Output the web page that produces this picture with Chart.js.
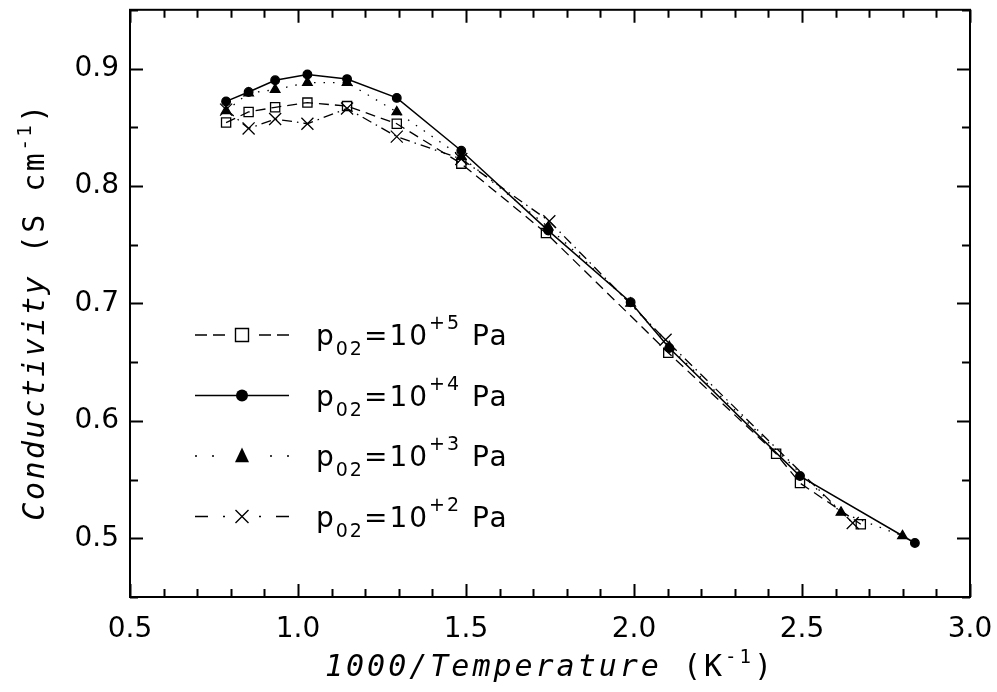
<!DOCTYPE html>
<html>
<head>
<meta charset="utf-8">
<script src="https://cdn.jsdelivr.net/npm/chart.js@4"></script>
<style>
  html, body { margin: 0; padding: 0; background: #fff; }
  canvas { display: block; }
</style>
</head>
<body>
<canvas id="chart" width="997" height="692"></canvas>
<script>
// 1000/T (K^-1) and conductivity (S/cm) per oxygen partial pressure
const invT5 = [0.786, 0.853, 0.932, 1.028, 1.146, 1.294, 1.486, 1.738, 2.102, 2.423, 2.494, 2.675];
const sigma5 = [0.854, 0.863, 0.867, 0.871, 0.868, 0.853, 0.819, 0.760, 0.658, 0.572, 0.547, 0.512];

const invT4 = [0.786, 0.853, 0.932, 1.028, 1.146, 1.294, 1.486, 1.745, 1.990, 2.105, 2.494, 2.836];
const sigma4 = [0.872, 0.880, 0.890, 0.895, 0.891, 0.875, 0.830, 0.762, 0.701, 0.662, 0.553, 0.496];

const invT3 = [0.786, 0.853, 0.932, 1.028, 1.146, 1.294, 1.486, 1.745, 1.990, 2.105, 2.616, 2.799];
const sigma3 = [0.864, 0.879, 0.882, 0.888, 0.888, 0.863, 0.825, 0.765, 0.700, 0.663, 0.522, 0.502];

const invT2 = [0.786, 0.853, 0.932, 1.028, 1.146, 1.294, 1.486, 1.748, 2.094, 2.651];
const sigma2 = [0.865, 0.849, 0.857, 0.853, 0.866, 0.842, 0.823, 0.770, 0.669, 0.513];

const exponents = ["+5", "+4", "+3", "+2"];
const xTicks = [0.5, 1.0, 1.5, 2.0, 2.5, 3.0];
const yTicks = [0.5, 0.6, 0.7, 0.8, 0.9];

const SANS = '"DejaVu Sans", sans-serif';
const MONO = '"DejaVu Sans Mono", monospace';

function toPoints(xs, ys) {
  return xs.map((x, i) => ({ x: x, y: ys[i] }));
}

function drawMarker(ctx, style, x, y, s) {
  ctx.save();
  ctx.setLineDash([]);
  ctx.lineWidth = 1.4;
  ctx.strokeStyle = "#000";
  ctx.fillStyle = "#000";
  ctx.beginPath();
  if (style === "rect") {
    ctx.rect(x - s / 2, y - s / 2, s, s);
    ctx.stroke();
  } else if (style === "circle") {
    ctx.arc(x, y, s / 2, 0, Math.PI * 2);
    ctx.fill();
  } else if (style === "triangle") {
    ctx.moveTo(x, y - s * 0.6);
    ctx.lineTo(x - s / 2, y + s * 0.45);
    ctx.lineTo(x + s / 2, y + s * 0.45);
    ctx.closePath();
    ctx.fill();
  } else {
    const h = s / 2;
    ctx.moveTo(x - h, y - h); ctx.lineTo(x + h, y + h);
    ctx.moveTo(x - h, y + h); ctx.lineTo(x + h, y - h);
    ctx.stroke();
  }
  ctx.restore();
}

// draw a run of text pieces (with sub/superscripts) starting at x on baseline y
function drawPieces(ctx, pieces, x, y, spacing) {
  ctx.letterSpacing = spacing + "px";
  pieces.forEach(p => {
    ctx.font = p.font;
    ctx.fillText(p.text, x, y + (p.dy || 0));
    x += ctx.measureText(p.text).width;
  });
  return x;
}
function piecesWidth(ctx, pieces, spacing) {
  ctx.letterSpacing = spacing + "px";
  let w = 0;
  pieces.forEach(p => { ctx.font = p.font; w += ctx.measureText(p.text).width; });
  return w;
}

const legendDash = [
  { left: [12, 6], right: [12, 6] },
  { left: [], right: [] },
  { left: [2, 15], right: [2, 15] },
  { left: [13, 15, 2, 40], right: [13, 15, 2, 40] }
];
const legendSize = [13, 12, 14, 13];

const framePlugin = {
  id: "frameAndTicks",
  afterDatasetsDraw(chart) {
    const ctx = chart.ctx;
    const a = chart.chartArea;
    const xs = chart.scales.x, ys = chart.scales.y;
    ctx.save();
    ctx.strokeStyle = "#000";
    ctx.lineWidth = 2;
    ctx.setLineDash([]);
    ctx.strokeRect(a.left, a.top, a.right - a.left, a.bottom - a.top);

    ctx.beginPath();
    // x ticks every 0.1, major every 0.5
    for (let i = 0; i <= 25; i++) {
      const v = xs.min + i * 0.1;
      const px = Math.round(xs.getPixelForValue(v)) + 0.5;
      const len = i % 5 === 0 ? 13 : 8;
      ctx.moveTo(px, a.bottom); ctx.lineTo(px, a.bottom - len);
      ctx.moveTo(px, a.top); ctx.lineTo(px, a.top + len);
    }
    // y ticks every 0.05, major every 0.1
    for (let i = 0; i <= 10; i++) {
      const v = ys.min + i * 0.05;
      const py = Math.round(ys.getPixelForValue(v)) + 0.5;
      const len = i % 2 === 1 ? 13 : 8;
      ctx.moveTo(a.left, py); ctx.lineTo(a.left + len, py);
      ctx.moveTo(a.right, py); ctx.lineTo(a.right - len, py);
    }
    ctx.stroke();
    ctx.restore();
  },
  afterDraw(chart) {
    const ctx = chart.ctx;
    const a = chart.chartArea;
    ctx.save();
    ctx.fillStyle = "#000";
    ctx.textBaseline = "alphabetic";
    ctx.textAlign = "left";

    // axis titles
    const big = "30px " + MONO, bigI = "italic 30px " + MONO, sup = "19px " + MONO;
    const xt = [
      { text: "1000/Temperature", font: bigI },
      { text: " (K", font: big },
      { text: "-1", font: sup, dy: -13 },
      { text: ")", font: big }
    ];
    const xw = piecesWidth(ctx, xt, 3);
    drawPieces(ctx, xt, (a.left + a.right) / 2 - xw / 2, 676, 3);

    const yt = [
      { text: "Conductivity", font: bigI },
      { text: " (S cm", font: big },
      { text: "-1", font: sup, dy: -13 },
      { text: ")", font: big }
    ];
    const yw = piecesWidth(ctx, yt, 2.5);
    ctx.save();
    ctx.translate(44, (a.top + a.bottom) / 2 + 8);
    ctx.rotate(-Math.PI / 2);
    drawPieces(ctx, yt, -yw / 2, 0, 2.5);
    ctx.restore();

    // legend
    chart.data.datasets.forEach((ds, i) => {
      const cy = 335 + i * 60.5;
      ctx.save();
      ctx.strokeStyle = "#000";
      ctx.lineWidth = ds.borderWidth;
      ctx.lineCap = "butt";
      if (i === 1) {
        ctx.beginPath(); ctx.moveTo(195, cy); ctx.lineTo(289, cy); ctx.stroke();
      } else {
        ctx.setLineDash(legendDash[i].left);
        ctx.beginPath(); ctx.moveTo(195, cy); ctx.lineTo(229, cy); ctx.stroke();
        ctx.setLineDash(legendDash[i].right);
        ctx.beginPath(); ctx.moveTo(289, cy); ctx.lineTo(255, cy); ctx.stroke();
      }
      ctx.restore();
      drawMarker(ctx, ds.pointStyle, 242, cy, legendSize[i]);

      const t = [
        { text: "p", font: "28px " + SANS },
        { text: "02", font: "19px " + SANS, dy: 10 },
        { text: "=10", font: "28px " + SANS },
        { text: exponents[i], font: "19px " + SANS, dy: -16 },
        { text: " Pa", font: "28px " + SANS }
      ];
      drawPieces(ctx, t, 316, cy + 10, 2);
    });
    ctx.restore();
  }
};

const lineBase = {
  borderColor: "#000",
  pointBorderColor: "#000",
  borderWidth: 1.3,
  pointBorderWidth: 1.3,
  pointHoverRadius: 0,
  tension: 0,
  fill: false,
  showLine: true
};

new Chart(document.getElementById("chart"), {
  type: "scatter",
  data: {
    datasets: [
      Object.assign({}, lineBase, {
        label: "p02=10+5 Pa", data: toPoints(invT5, sigma5),
        borderDash: [10, 6], pointStyle: "rect", pointRadius: 6.5,
        pointBackgroundColor: "rgba(0,0,0,0)"
      }),
      Object.assign({}, lineBase, {
        label: "p02=10+4 Pa", data: toPoints(invT4, sigma4),
        borderWidth: 1.5, pointStyle: "circle", pointRadius: 4.3,
        pointBackgroundColor: "#000"
      }),
      Object.assign({}, lineBase, {
        label: "p02=10+3 Pa", data: toPoints(invT3, sigma3),
        borderDash: [1.5, 8], pointStyle: "triangle", pointRadius: 5.5,
        pointBackgroundColor: "#000"
      }),
      Object.assign({}, lineBase, {
        label: "p02=10+2 Pa", data: toPoints(invT2, sigma2),
        borderDash: [10, 5, 1.5, 5], pointStyle: "crossRot", pointRadius: 8.5,
        pointBackgroundColor: "rgba(0,0,0,0)"
      })
    ]
  },
  options: {
    responsive: false,
    animation: false,
    events: [],
    layout: { padding: { top: 9, right: 27, left: 0, bottom: 0 } },
    plugins: { legend: { display: false }, tooltip: { enabled: false } },
    scales: {
      x: {
        type: "linear", min: 0.5, max: 3.0,
        afterBuildTicks: s => { s.ticks = xTicks.map(v => ({ value: v })); },
        ticks: {
          color: "#000", padding: 16, maxRotation: 0,
          font: { family: SANS, size: 28 },
          callback: v => Number(v).toFixed(1)
        },
        grid: { display: false, drawTicks: false },
        border: { display: false },
        afterFit: s => { s.height = 95; s.paddingLeft = 0; s.paddingRight = 0; }
      },
      y: {
        type: "linear", min: 0.45, max: 0.95,
        afterBuildTicks: s => { s.ticks = yTicks.map(v => ({ value: v })); },
        ticks: {
          color: "#000", padding: 11,
          font: { family: SANS, size: 28 },
          callback: v => Number(v).toFixed(1)
        },
        grid: { display: false, drawTicks: false },
        border: { display: false },
        afterFit: s => { s.width = 130; s.paddingTop = 0; s.paddingBottom = 0; }
      }
    }
  },
  plugins: [framePlugin]
});
</script>
</body>
</html>
